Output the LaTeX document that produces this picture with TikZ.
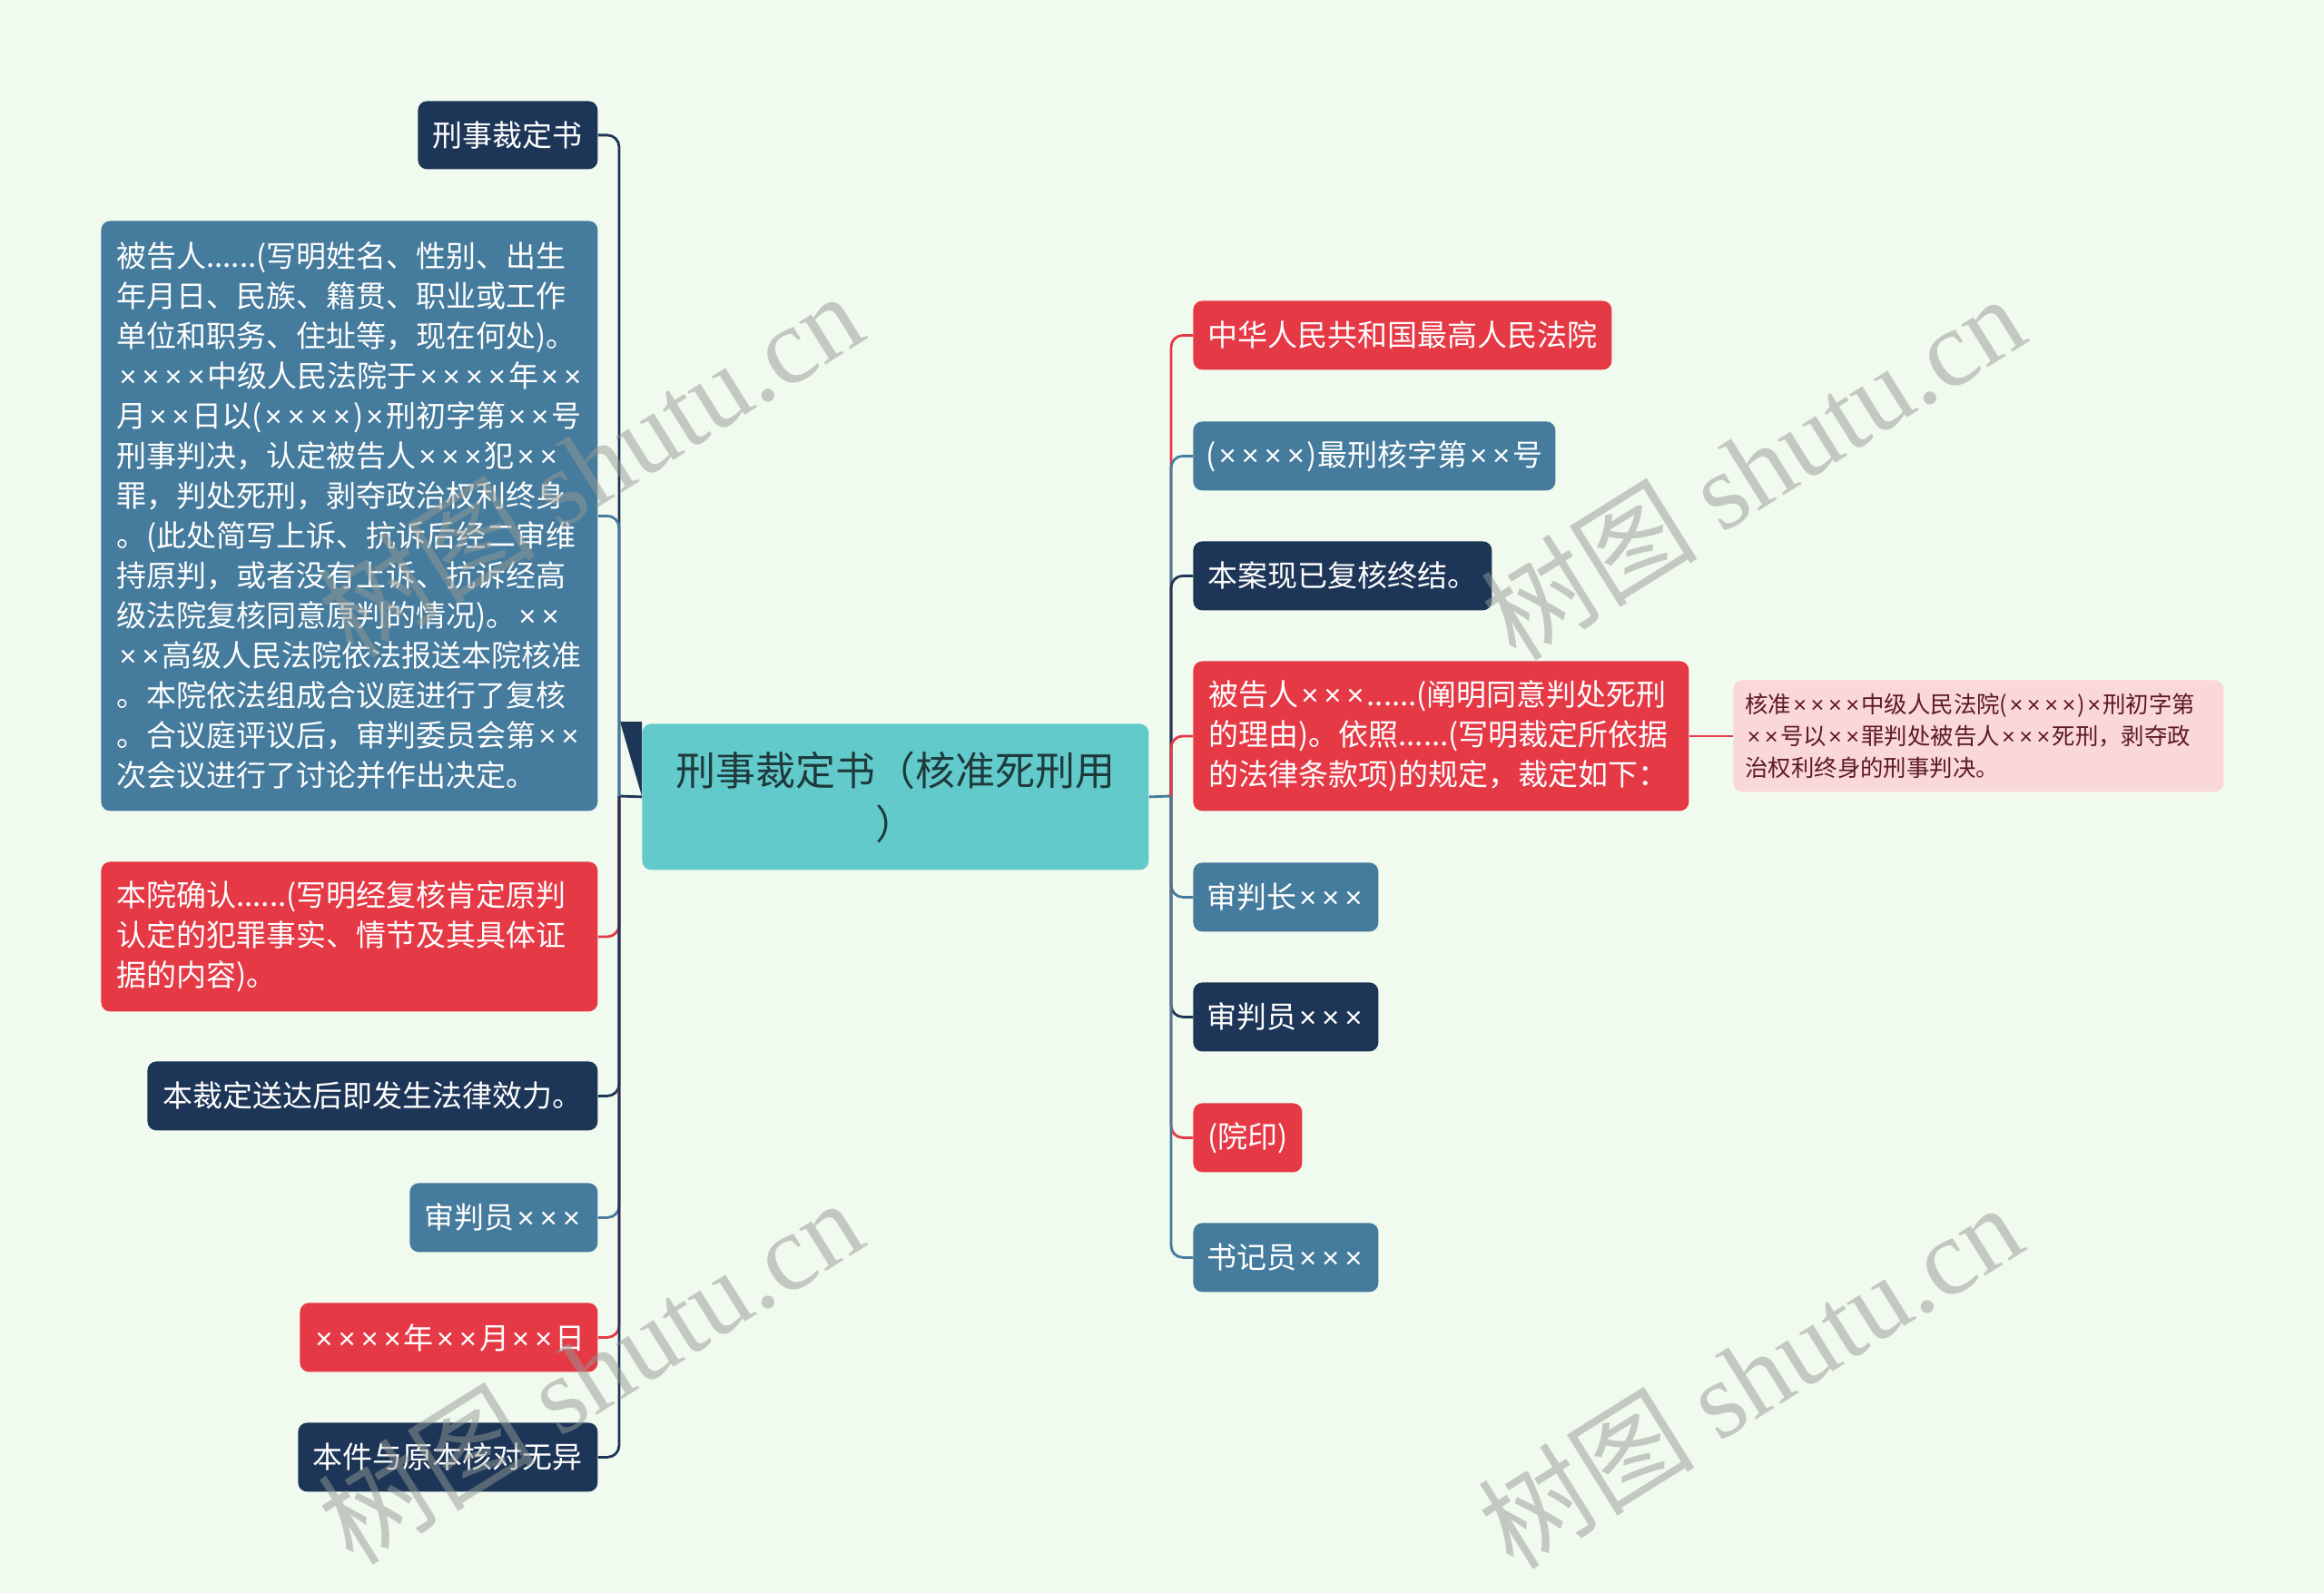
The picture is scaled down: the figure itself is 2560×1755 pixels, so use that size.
\documentclass[tikz,border=0pt]{standalone}
\usepackage{fontspec}
\setmainfont{Noto Sans CJK SC}
\newfontfamily\wmserif{Liberation Serif}
\newfontfamily\xfont{Liberation Sans}
\newcommand\xc{\makebox[0.76em][c]{\xfont ×}}
\definecolor{bg}{HTML}{F1FAEE}
\definecolor{cred}{HTML}{E63946}
\definecolor{cblue}{HTML}{457B9D}
\definecolor{cnavy}{HTML}{1D3557}
\definecolor{cteal}{HTML}{63CACC}
\definecolor{cpink}{HTML}{F9D7DA}
\definecolor{ctxt}{HTML}{1E3A3A}
\definecolor{cpinktxt}{HTML}{5E1A22}
\definecolor{wmgray}{HTML}{949A94}
\begin{document}
\begin{tikzpicture}[x=0.5pt,y=-0.5pt,
  nb/.style={rounded corners=5pt, inner sep=0pt, anchor=north west, text=white,
    font=\fontsize{16.5pt}{22pt}\selectfont, align=center, minimum height=38pt},
  ml/.style={align=left, inner xsep=8.5pt, inner ysep=0pt},
  fred/.style={fill=cred}, fblue/.style={fill=cblue}, fnavy/.style={fill=cnavy},
  conn/.style={line width=1.4pt, rounded corners=6.5pt},
  wm/.style={rotate=32, text=wmgray, opacity=0.5, text opacity=0.5,
    font=\fontsize{60pt}{64pt}\selectfont}
]
\fill[bg] (0,0) rectangle (2560,1755);
\useasboundingbox (0,0) rectangle (2560,1755);

% wedge at root's upper left
\fill[cnavy] (683,795) -- (707,795) -- (707,877) -- cycle;

% root
\node[nb, fill=cteal, text=ctxt, font=\fontsize{22pt}{29.5pt}\selectfont,
  minimum width=279pt, minimum height=80.5pt] (root) at (707,797) {刑事裁定书（核准死刑用\\）};

% left children
\node[nb,fnavy,minimum width=99pt,minimum height=37.5pt] (l1) at (460,111) {刑事裁定书};
\node[nb,fblue,ml,text width=256.5pt,minimum height=325pt] (l2) at (111,243) {被告人......(写明姓名、性别、出生\\年月日、民族、籍贯、职业或工作\\单位和职务、住址等，现在何处)。\\\xc{}\xc{}\xc{}\xc{}中级人民法院于\xc{}\xc{}\xc{}\xc{}年\xc{}\xc{}\\月\xc{}\xc{}日以(\xc{}\xc{}\xc{}\xc{})\xc{}刑初字第\xc{}\xc{}号\\刑事判决，认定被告人\xc{}\xc{}\xc{}犯\xc{}\xc{}\\罪，判处死刑，剥夺政治权利终身\\。(此处简写上诉、抗诉后经二审维\\持原判，或者没有上诉、抗诉经高\\级法院复核同意原判的情况)。\xc{}\xc{}\\\xc{}\xc{}高级人民法院依法报送本院核准\\。本院依法组成合议庭进行了复核\\。合议庭评议后，审判委员会第\xc{}\xc{}\\次会议进行了讨论并作出决定。};
\node[nb,fred,ml,text width=256.5pt,minimum height=82.5pt] (l3) at (111,949) {本院确认......(写明经复核肯定原判\\认定的犯罪事实、情节及其具体证\\据的内容)。};
\node[nb,fnavy,minimum width=248pt] (l4) at (162,1169) {本裁定送达后即发生法律效力。};
\node[nb,fblue,minimum width=103.5pt] (l5) at (451,1303) {审判员\xc{}\xc{}\xc{}};
\node[nb,fred,minimum width=164pt] (l6) at (330,1435) {\xc{}\xc{}\xc{}\xc{}年\xc{}\xc{}月\xc{}\xc{}日};
\node[nb,fnavy,minimum width=165pt] (l7) at (328,1567) {本件与原本核对无异};

% right children
\node[nb,fred,minimum width=230.5pt] (r1) at (1314,331) {中华人民共和国最高人民法院};
\node[nb,fblue,minimum width=199.5pt] (r2) at (1314,464) {(\xc{}\xc{}\xc{}\xc{})最刑核字第\xc{}\xc{}号};
\node[nb,fnavy,minimum width=164.5pt] (r3) at (1314,596) {本案现已复核终结。};
\node[nb,fred,ml,text width=256pt,minimum height=82.5pt] (r4) at (1314,728) {被告人\xc{}\xc{}\xc{}......(阐明同意判处死刑\\的理由)。依照......(写明裁定所依据\\的法律条款项)的规定，裁定如下：};
\node[nb,fblue,minimum width=102pt] (r5) at (1314,950) {审判长\xc{}\xc{}\xc{}};
\node[nb,fnavy,minimum width=102pt] (r6) at (1314,1082) {审判员\xc{}\xc{}\xc{}};
\node[nb,fred,minimum width=60pt] (r7) at (1314,1215) {(院印)};
\node[nb,fblue,minimum width=102pt] (r8) at (1314,1347) {书记员\xc{}\xc{}\xc{}};
\node[nb,fill=cpink,text=cpinktxt,ml,inner xsep=6.5pt,text width=257pt,minimum height=61.5pt,
  font=\fontsize{12.7pt}{17.5pt}\selectfont] (p1) at (1909,749) {核准\xc{}\xc{}\xc{}\xc{}中级人民法院(\xc{}\xc{}\xc{}\xc{})\xc{}刑初字第\\\xc{}\xc{}号以\xc{}\xc{}罪判处被告人\xc{}\xc{}\xc{}死刑，剥夺政\\治权利终身的刑事判决。};

% spines
\coordinate (ls) at (682,877);
\coordinate (rs) at (1290,877);
\draw[line width=1.4pt, cnavy] (root.west) -- (ls);
\draw[line width=1.4pt, cblue] (root.east) -- (rs);

\draw[conn, cnavy] (ls) |- (l1.east);
\draw[conn, cblue] (ls) |- (l2.east);
\draw[conn, cred] (ls) |- (l3.east);
\draw[conn, cnavy] (ls) |- (l4.east);
\draw[conn, cblue] (ls) |- (l5.east);
\draw[conn, cred] (ls) |- (l6.east);
\draw[conn, cnavy] (ls) |- (l7.east);

\draw[conn, cred] (rs) |- (r1.west);
\draw[conn, cblue] (rs) |- (r2.west);
\draw[conn, cnavy] (rs) |- (r3.west);
\draw[conn, cred] (rs) |- (r4.west);
\draw[conn, cblue] (rs) |- (r5.west);
\draw[conn, cnavy] (rs) |- (r6.west);
\draw[conn, cred] (rs) |- (r7.west);
\draw[conn, cblue] (rs) |- (r8.west);
\draw[line width=1.4pt, cred] (r4.east) -- (p1.west);

% watermarks
\node[wm] (w1) at (650,511) {树图 {\wmserif shutu.cn}};
\node[wm] (w2) at (1930,514) {树图 {\wmserif shutu.cn}};
\node[wm] (w3) at (650,1510) {树图 {\wmserif shutu.cn}};
\node[wm] (w4) at (1927,1515) {树图 {\wmserif shutu.cn}};
\end{tikzpicture}
\end{document}
